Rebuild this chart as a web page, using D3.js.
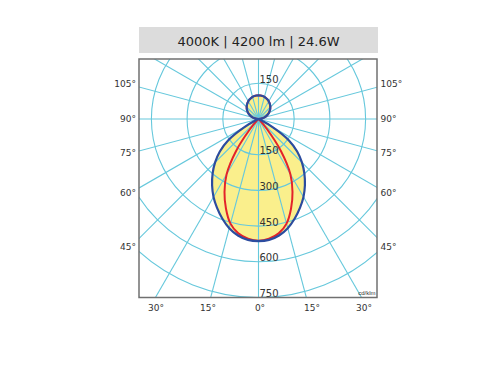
<!DOCTYPE html>
<html><head><meta charset="utf-8">
<script src="https://cdn.jsdelivr.net/npm/d3@7"></script>
<style>body{margin:0;background:#fff}</style></head>
<body><svg id="c" width="500" height="370"></svg>
<script>
// ---- data ----
const title = "4000K | 4200 lm | 24.6W";
const unitLabel = "cd/klm";
const gammas = [0,5,10,15,20,25,30,35,40,45,50,55,60,65,70,75,80,85,90,95,100,105,110,115,120,125,130,135,140,145,150,155,160,165,170,175,180];
const c0_180 = [513,510,497,475,445,412,378,340,300,258,212,155,70,8,0,0,0,0,0,9,17,26,34,42,50,57,64,70,76,81,86,90,93,96,98,99,99];
const c90_270 = [512,505,488,455,400,338,268,165,55,8,0,0,0,0,0,0,0,0,0,9,17,26,34,42,50,57,64,70,76,81,86,90,93,96,98,99,99];
const ringValues = [150,300,450,600,750,900,1050];
const ringLabelsDown = [150,300,450,600,750];
const ringLabelsUp = [150];
const spokeAngles = [0,15,30,45,60,75,90,105,120,135,150,165,180,195,210,225,240,255,270,285,300,315,330,345];
const sideLabels = [105,90,75,60,45];
const bottomLabels = [-30,-15,0,15,30];

// ---- layout ----
const svg = d3.select("#c");
const cx = 258.5, cy = 119;
const frame = {x:139, y:59, w:238, h:238.5};
const r = d3.scaleLinear().domain([0,750]).range([0,178.5]);
const bottomX = d3.scaleLinear().domain([-30,30]).range([cx-104, cx+104]);
const gridColor = "#66c8dc";

// title
svg.append("rect").attr("x",139).attr("y",27).attr("width",239).attr("height",26).attr("fill","#dcdcdc");
svg.append("text").attr("x",cx).attr("y",46).attr("text-anchor","middle")
  .attr("font-family","DejaVu Sans").attr("font-size",13).attr("fill","#222").text(title);

svg.append("clipPath").attr("id","clip").append("rect")
  .attr("x",frame.x).attr("y",frame.y).attr("width",frame.w).attr("height",frame.h);

const g = svg.append("g").attr("clip-path","url(#clip)");

function series(vals){
  const pts = [];
  for (let i = gammas.length-2; i >= 1; i--) pts.push({t:-gammas[i], v:vals[i]});
  for (let i = 0; i < gammas.length; i++) pts.push({t:gammas[i], v:vals[i]});
  return pts; // -175 .. 180
}
const line = d3.lineRadial()
  .angle(d => Math.PI - d.t*Math.PI/180)
  .radius(d => r(d.v))
  .curve(d3.curveCatmullRomClosed.alpha(0.5));

// fill (below grid)
g.append("path").attr("transform",`translate(${cx},${cy})`)
  .attr("d", line(series(c0_180))).attr("fill","#faef8c").attr("stroke","none");

// grid
const grid = g.append("g").attr("transform",`translate(${cx},${cy})`);
grid.selectAll("circle").data(ringValues).join("circle")
  .attr("r", d => r(d)).attr("fill","none").attr("stroke",gridColor).attr("stroke-width",1.1);
grid.selectAll("line").data(spokeAngles).join("line")
  .attr("x1",0).attr("y1",0)
  .attr("x2", d => r(1200)*Math.sin(d*Math.PI/180))
  .attr("y2", d => r(1200)*Math.cos(d*Math.PI/180))
  .attr("stroke",gridColor).attr("stroke-width",1.1);

// curves (above grid)
const curves = g.append("g").attr("transform",`translate(${cx},${cy})`);
curves.append("path").attr("d", line(series(c90_270))).attr("fill","none").attr("stroke","#e3232a").attr("stroke-width",2);
curves.append("path").attr("d", line(series(c0_180))).attr("fill","none").attr("stroke","#2c4c9f").attr("stroke-width",2.2);

// ring labels
const lab = svg.append("g").attr("font-family","DejaVu Sans").attr("font-size",10).attr("fill","#333");
lab.selectAll("text.dn").data(ringLabelsDown).join("text").attr("class","dn")
  .attr("x",cx+1).attr("y",d => cy + r(d) - 0.5).text(d => d);
lab.selectAll("text.up").data(ringLabelsUp).join("text").attr("class","up")
  .attr("x",cx+1).attr("y",d => cy - r(d) - 0.5).text(d => d);

// unit
svg.append("text").attr("x",frame.x+frame.w-1.5).attr("y",frame.y+frame.h-3)
  .attr("text-anchor","end").attr("font-family","Liberation Sans").attr("font-size",6).attr("fill","#333").text(unitLabel);

// frame
svg.append("rect").attr("x",frame.x).attr("y",frame.y).attr("width",frame.w).attr("height",frame.h)
  .attr("fill","none").attr("stroke","#707070").attr("stroke-width",1.5);

// angle labels
const al = svg.append("g").attr("font-family","DejaVu Sans").attr("font-size",9).attr("fill","#333");
const sideY = a => cy - 0.5 + 128/Math.tan(a*Math.PI/180);
al.selectAll("text.l").data(sideLabels).join("text").attr("class","l")
  .attr("x",136).attr("y",d => sideY(d)).attr("dy","0.36em").attr("text-anchor","end").text(d => d + "°");
al.selectAll("text.r").data(sideLabels).join("text").attr("class","r")
  .attr("x",380.5).attr("y",d => sideY(d)).attr("dy","0.36em").attr("text-anchor","start").text(d => d + "°");
al.selectAll("text.b").data(bottomLabels).join("text").attr("class","b")
  .attr("x",d => bottomX(d) + 1.5).attr("y",310.6).attr("text-anchor","middle").text(d => Math.abs(d) + "°");
</script>
</body></html>
